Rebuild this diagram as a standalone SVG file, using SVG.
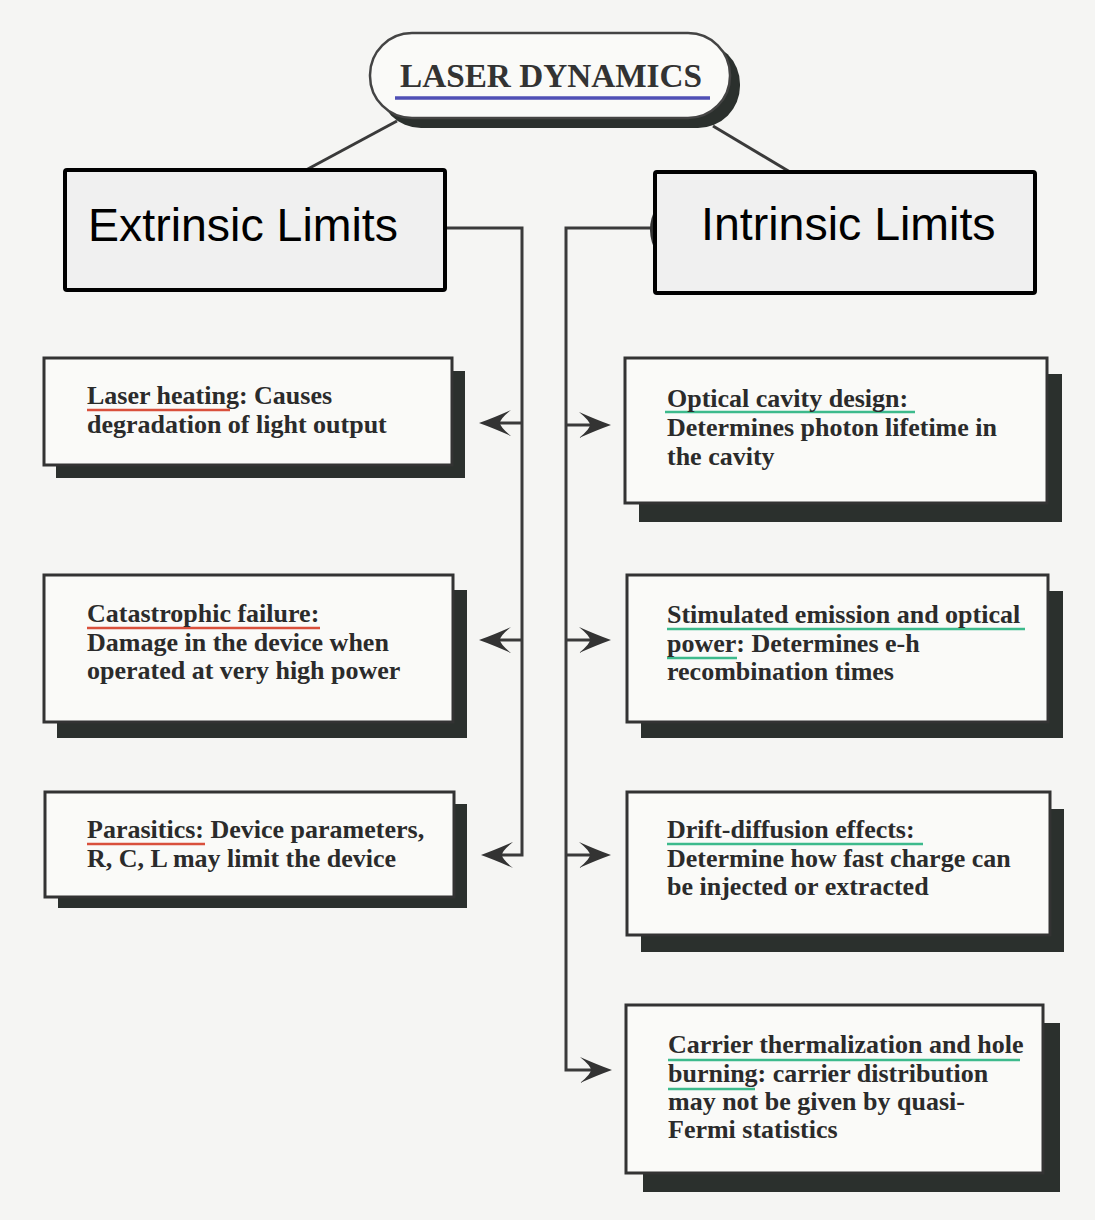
<svg xmlns="http://www.w3.org/2000/svg" width="1095" height="1220" viewBox="0 0 1095 1220">
<defs>
<style>
.bg{fill:#f5f5f3}
.shadow{fill:#2b302d}
.box{fill:#fafaf8;stroke:#333;stroke-width:3}
.hbox{fill:#f0f0f0;stroke:#000;stroke-width:4}
.t{font-family:"Liberation Serif","Times New Roman",serif;font-weight:bold;font-size:26px;fill:#2b2b2b}
.h{font-family:"Liberation Sans",Arial,sans-serif;font-size:46.5px;fill:#000}
.title{font-family:"Liberation Serif","Times New Roman",serif;font-weight:bold;font-size:33px;fill:#333}
.ln{fill:none;stroke:#3a3a3a;stroke-width:3}
.red{stroke:#d9503c;stroke-width:2.5}
.grn{stroke:#3dba8c;stroke-width:2.5}
.arr{fill:#333}
</style>
<path id="ah" d="M0,0 Q-14,-5 -32,-13 Q-21,-4 -21,0 Q-21,4 -32,13 Q-14,5 0,0Z"/>
</defs>
<rect class="bg" x="0" y="0" width="1095" height="1220"/>

<g id="connectors">
<line class="ln" x1="397" y1="121" x2="306" y2="170"/>
<line class="ln" x1="713" y1="126" x2="790" y2="172"/>
<polyline class="ln" points="445,228 522,228 522,855 498,855"/>
<line class="ln" x1="522" y1="423" x2="498" y2="423"/>
<line class="ln" x1="522" y1="640" x2="498" y2="640"/>
<polyline class="ln" points="655,228 566,228 566,1070 592,1070"/>
<line class="ln" x1="566" y1="425" x2="592" y2="425"/>
<line class="ln" x1="566" y1="640" x2="592" y2="640"/>
<line class="ln" x1="566" y1="855" x2="592" y2="855"/>
<use href="#ah" class="arr" transform="translate(479,423) scale(-1,1)"/>
<use href="#ah" class="arr" transform="translate(479,640) scale(-1,1)"/>
<use href="#ah" class="arr" transform="translate(481,855) scale(-1,1)"/>
<use href="#ah" class="arr" transform="translate(611,425)"/>
<use href="#ah" class="arr" transform="translate(611,640)"/>
<use href="#ah" class="arr" transform="translate(611,855)"/>
<use href="#ah" class="arr" transform="translate(612,1070)"/>
</g>

<g id="laser-dynamics">
<rect class="shadow" x="379" y="42" width="361" height="86" rx="42"/>
<rect x="370" y="33" width="360" height="85" rx="42" fill="#fafaf8" stroke="#444" stroke-width="2.5"/>
<text class="title" x="400" y="87" textLength="302" lengthAdjust="spacingAndGlyphs">LASER DYNAMICS</text>
<line x1="395" y1="98" x2="710" y2="98" stroke="#4f4fb5" stroke-width="3.5"/>
</g>

<g id="extrinsic-limits">
<rect class="hbox" x="65" y="170" width="380" height="120" rx="2"/>
<text class="h" x="88" y="241">Extrinsic Limits</text>
</g>

<g id="intrinsic-limits">
<path d="M657,206 Q643,229 657,254Z" fill="#333"/>
<rect class="hbox" x="655" y="172" width="380" height="121" rx="2"/>
<text class="h" x="701" y="240">Intrinsic Limits</text>
</g>

<g id="laser-heating">
<rect class="shadow" x="56" y="371" width="409" height="107"/>
<rect class="box" x="44" y="358" width="408" height="107"/>
<line class="red" x1="87" y1="410" x2="230" y2="410"/>
<text class="t" x="87" y="404">Laser heating: Causes</text>
<text class="t" x="87" y="433">degradation of light output</text>
</g>

<g id="catastrophic-failure">
<rect class="shadow" x="57" y="590" width="410" height="148"/>
<rect class="box" x="44" y="575" width="409" height="147"/>
<line class="red" x1="87" y1="628" x2="320" y2="628"/>
<text class="t" x="87" y="622">Catastrophic failure:</text>
<text class="t" x="87" y="651">Damage in the device when</text>
<text class="t" x="87" y="679">operated at very high power</text>
</g>

<g id="parasitics">
<rect class="shadow" x="58" y="804" width="409" height="104"/>
<rect class="box" x="45" y="792" width="409" height="105"/>
<line class="red" x1="87" y1="844" x2="205" y2="844"/>
<text class="t" x="87" y="838">Parasitics: Device parameters,</text>
<text class="t" x="87" y="867">R, C, L may limit the device</text>
</g>

<g id="optical-cavity">
<rect class="shadow" x="639" y="374" width="423" height="148"/>
<rect class="box" x="625" y="358" width="422" height="145"/>
<line class="grn" x1="665" y1="412" x2="915" y2="412"/>
<text class="t" x="667" y="407">Optical cavity design:</text>
<text class="t" x="667" y="436">Determines photon lifetime in</text>
<text class="t" x="667" y="465">the cavity</text>
</g>

<g id="stimulated-emission">
<rect class="shadow" x="641" y="591" width="422" height="147"/>
<rect class="box" x="627" y="575" width="421" height="147"/>
<line class="grn" x1="667" y1="629" x2="1025" y2="629"/>
<line class="grn" x1="667" y1="658" x2="737" y2="658"/>
<text class="t" x="667" y="623">Stimulated emission and optical</text>
<text class="t" x="667" y="652">power: Determines e-h</text>
<text class="t" x="667" y="680">recombination times</text>
</g>

<g id="drift-diffusion">
<rect class="shadow" x="641" y="809" width="423" height="143"/>
<rect class="box" x="627" y="792" width="423" height="143"/>
<line class="grn" x1="667" y1="844" x2="923" y2="844"/>
<text class="t" x="667" y="838">Drift-diffusion effects:</text>
<text class="t" x="667" y="867">Determine how fast charge can</text>
<text class="t" x="667" y="895">be injected or extracted</text>
</g>

<g id="carrier-thermalization">
<rect class="shadow" x="643" y="1023" width="417" height="169"/>
<rect class="box" x="626" y="1005" width="417" height="168"/>
<line class="grn" x1="668" y1="1060" x2="1020" y2="1060"/>
<line class="grn" x1="668" y1="1089" x2="755" y2="1089"/>
<text class="t" x="668" y="1053">Carrier thermalization and hole</text>
<text class="t" x="668" y="1082">burning: carrier distribution</text>
<text class="t" x="668" y="1110">may not be given by quasi-</text>
<text class="t" x="668" y="1138">Fermi statistics</text>
</g>
</svg>
